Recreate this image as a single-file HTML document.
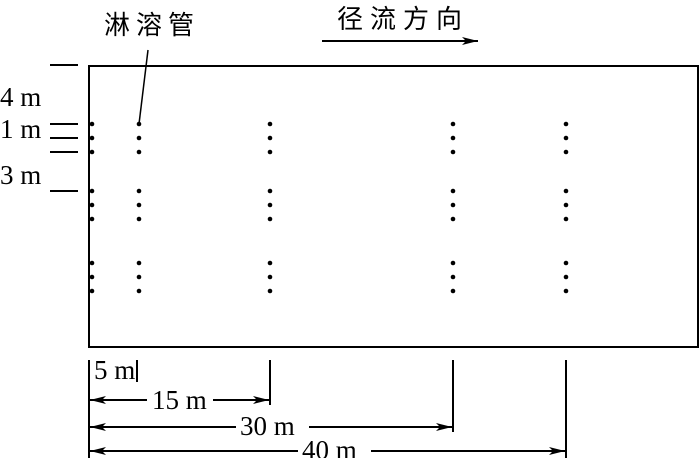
<!DOCTYPE html>
<html><head><meta charset="utf-8"><style>html,body{margin:0;padding:0;background:#fff}svg{display:block}
.s{font-family:"Liberation Serif","Noto Serif CJK SC",serif;font-size:27px}
.c{font-family:"Liberation Sans","Noto Sans CJK SC",sans-serif;font-size:26px}
</style></head>
<body>
<svg width="700" height="458" viewBox="0 0 700 458" xmlns="http://www.w3.org/2000/svg">
<defs><marker id="a" viewBox="0 0 16 8" refX="16" refY="4" markerWidth="16" markerHeight="8" markerUnits="userSpaceOnUse" orient="auto-start-reverse"><path d="M0,0 L16,4 L0,8 L4,4 Z" fill="#000"/></marker></defs>
<g fill="#000">
<text x="104" y="34" class="c" style="letter-spacing:6px">淋溶管</text>
<text x="337" y="28" class="c" style="letter-spacing:7px">径流方向</text>
<text x="0" y="106" class="s">4 m</text>
<text x="0" y="138" class="s">1 m</text>
<text x="0" y="184" class="s">3 m</text>
<text x="94" y="379" class="s">5 m</text>
<text x="152" y="409" class="s">15 m</text>
<text x="240" y="435" class="s">30 m</text>
<text x="302" y="459" class="s">40 m</text>
</g>
<g stroke="#000" fill="none" stroke-width="2">
<rect x="89" y="66" width="609" height="281"/>
<line x1="322" y1="41" x2="478" y2="41" marker-end="url(#a)"/>
<line x1="148" y1="50" x2="139" y2="124" stroke-width="1.5"/>
<line x1="50" y1="65" x2="78" y2="65"/>
<line x1="50" y1="124" x2="78" y2="124"/>
<line x1="50" y1="138" x2="78" y2="138"/>
<line x1="50" y1="152" x2="78" y2="152"/>
<line x1="50" y1="191" x2="78" y2="191"/>
<line x1="89" y1="360" x2="89" y2="458"/>
<line x1="137" y1="360" x2="137" y2="382"/>
<line x1="270" y1="360" x2="270" y2="405"/>
<line x1="453" y1="360" x2="453" y2="432"/>
<line x1="566" y1="360" x2="566" y2="458"/>
<line x1="90" y1="400" x2="147" y2="400" marker-start="url(#a)"/>
<line x1="213" y1="400" x2="269" y2="400" marker-end="url(#a)"/>
<line x1="90" y1="427" x2="236" y2="427" marker-start="url(#a)"/>
<line x1="309" y1="427" x2="452" y2="427" marker-end="url(#a)"/>
<line x1="90" y1="451" x2="298" y2="451" marker-start="url(#a)"/>
<line x1="371" y1="451" x2="565" y2="451" marker-end="url(#a)"/>
</g>
<g fill="#000">
<circle cx="92" cy="124" r="2.3"/><circle cx="92" cy="138" r="2.3"/><circle cx="92" cy="152" r="2.3"/><circle cx="92" cy="191" r="2.3"/><circle cx="92" cy="205" r="2.3"/><circle cx="92" cy="219" r="2.3"/><circle cx="92" cy="263" r="2.3"/><circle cx="92" cy="277" r="2.3"/><circle cx="92" cy="291" r="2.3"/>
<circle cx="139" cy="124" r="2.3"/><circle cx="139" cy="138" r="2.3"/><circle cx="139" cy="152" r="2.3"/><circle cx="139" cy="191" r="2.3"/><circle cx="139" cy="205" r="2.3"/><circle cx="139" cy="219" r="2.3"/><circle cx="139" cy="263" r="2.3"/><circle cx="139" cy="277" r="2.3"/><circle cx="139" cy="291" r="2.3"/>
<circle cx="270" cy="124" r="2.3"/><circle cx="270" cy="138" r="2.3"/><circle cx="270" cy="152" r="2.3"/><circle cx="270" cy="191" r="2.3"/><circle cx="270" cy="205" r="2.3"/><circle cx="270" cy="219" r="2.3"/><circle cx="270" cy="263" r="2.3"/><circle cx="270" cy="277" r="2.3"/><circle cx="270" cy="291" r="2.3"/>
<circle cx="453" cy="124" r="2.3"/><circle cx="453" cy="138" r="2.3"/><circle cx="453" cy="152" r="2.3"/><circle cx="453" cy="191" r="2.3"/><circle cx="453" cy="205" r="2.3"/><circle cx="453" cy="219" r="2.3"/><circle cx="453" cy="263" r="2.3"/><circle cx="453" cy="277" r="2.3"/><circle cx="453" cy="291" r="2.3"/>
<circle cx="566" cy="124" r="2.3"/><circle cx="566" cy="138" r="2.3"/><circle cx="566" cy="152" r="2.3"/><circle cx="566" cy="191" r="2.3"/><circle cx="566" cy="205" r="2.3"/><circle cx="566" cy="219" r="2.3"/><circle cx="566" cy="263" r="2.3"/><circle cx="566" cy="277" r="2.3"/><circle cx="566" cy="291" r="2.3"/>
</g>
</svg>
</body></html>
